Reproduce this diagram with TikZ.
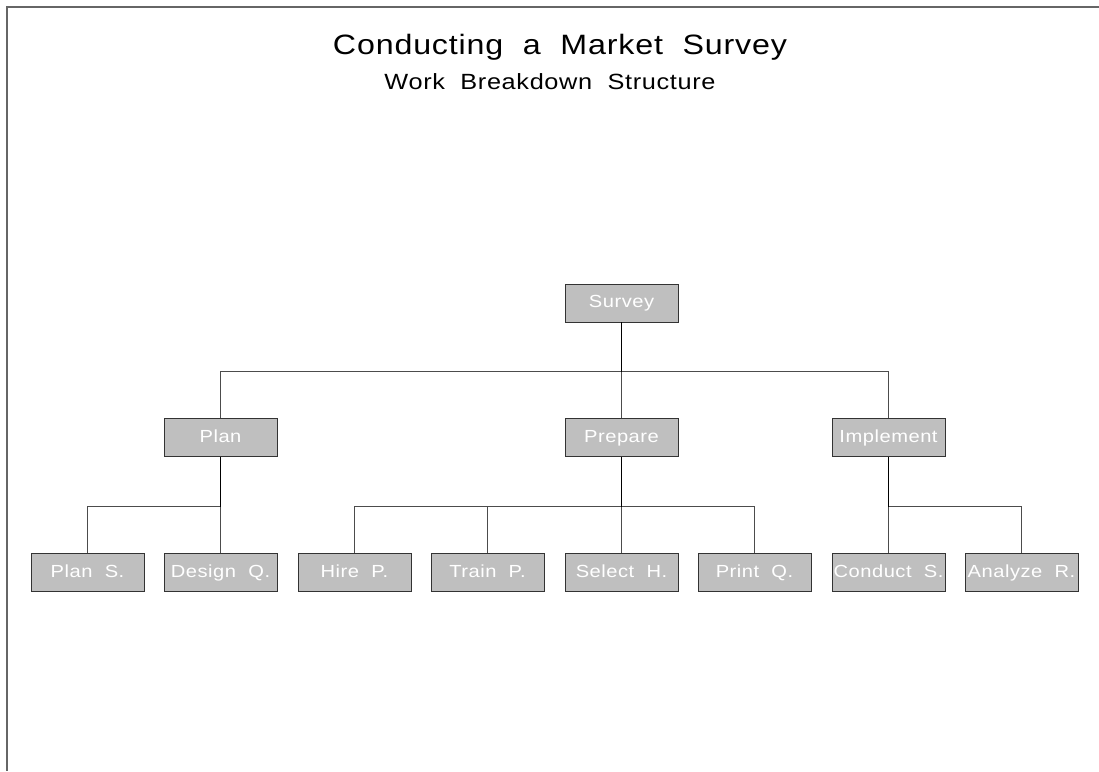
\documentclass[tikz,border=0pt]{standalone}
\usepackage{fontspec}
\setmainfont{Liberation Sans}
\newfontfamily\swiss[FakeStretch=1.15,LetterSpace=3,WordSpace=2]{Liberation Sans}
\begin{document}
\begin{tikzpicture}[x=1pt,y=1pt,
  frame/.style={draw=black!60,line width=1.6pt},
  task/.style={draw=black!80,fill=black!25,line width=0.8pt,minimum width=113pt,minimum height=38pt,inner sep=0pt,
     text height=13pt,text depth=4pt,
     font=\swiss\fontsize{17.5}{20}\selectfont,text=white},
  link/.style={draw=black!70,line width=0.9pt},
  stem/.style={draw=black,line width=1.4pt}]
\useasboundingbox (0,0) rectangle (1099,-771);
\draw[frame] (1099,-7) -- (7,-7) -- (7,-771);
\node[font=\swiss\fontsize{28}{32}\selectfont] (title) at (560,-47) {Conducting a Market Survey};
\node[font=\swiss\fontsize{22}{26}\selectfont] (subtitle) at (550,-82) {Work Breakdown Structure};

\node[task] (survey) at (621.5,-303) {Survey};
\node[task] (plan) at (220.5,-437.5) {Plan};
\node[task] (prepare) at (621.5,-437.5) {Prepare};
\node[task] (implement) at (888.5,-437.5) {Implement};

\node[task] (plans) at (87.5,-572.5) {Plan S.};
\node[task] (designq) at (220.5,-572.5) {Design Q.};
\node[task] (hirep) at (354.5,-572.5) {Hire P.};
\node[task] (trainp) at (487.5,-572.5) {Train P.};
\node[task] (selecth) at (621.5,-572.5) {Select H.};
\node[task] (printq) at (754.5,-572.5) {Print Q.};
\node[task] (conducts) at (888.5,-572.5) {Conduct S.};
\node[task] (analyzer) at (1021.5,-572.5) {Analyze R.};

\coordinate (j0) at (621.5,-371.5);
\coordinate (j1) at (220.5,-506.5);
\coordinate (j2) at (621.5,-506.5);
\coordinate (j3) at (888.5,-506.5);

\draw[link] (plan.north) |- (j0) -| (implement.north);
\draw[link] (j0) -- (prepare.north);
\draw[stem] (survey.south) -- (j0);

\draw[link] (plans.north) |- (j1) -- (designq.north);
\draw[stem] (plan.south) -- (j1);

\draw[link] (hirep.north) |- (j2) -| (printq.north);
\draw[link] (trainp.north) |- (j2);
\draw[link] (j2) -- (selecth.north);
\draw[stem] (prepare.south) -- (j2);

\draw[link] (conducts.north) |- (j3) -| (analyzer.north);
\draw[stem] (implement.south) -- (j3);
\end{tikzpicture}
\end{document}
